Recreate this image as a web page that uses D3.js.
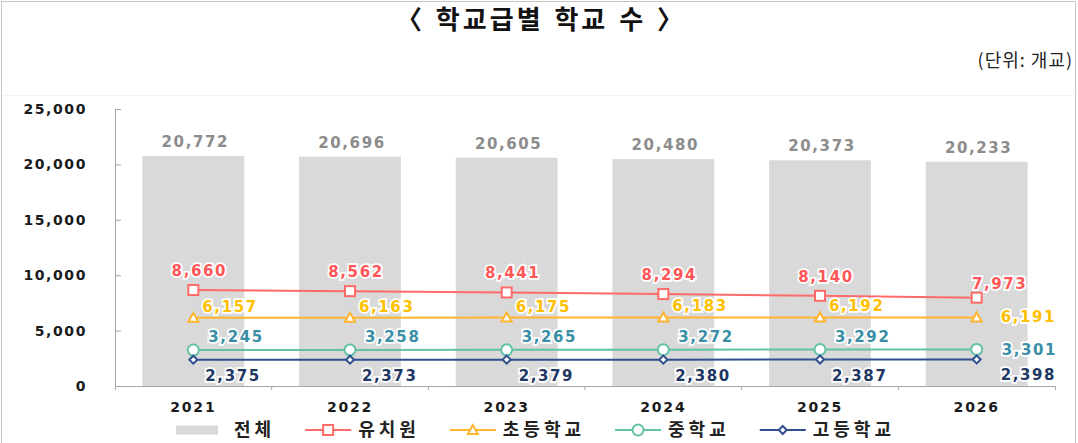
<!DOCTYPE html>
<html>
<head>
<meta charset="utf-8">
<script src="https://cdn.jsdelivr.net/npm/d3@7"></script>
<style>
  html, body { margin: 0; padding: 0; background: #fff; }
  svg { display: block; }
</style>
</head>
<body>
<div id="chart"></div>
<script>
// values
const years = ['2021', '2022', '2023', '2024', '2025', '2026'];
const totalSchools = [20772, 20696, 20605, 20480, 20373, 20233];
const kindergarten = [8660, 8562, 8441, 8294, 8140, 7973];
const elementary = [6157, 6163, 6175, 6183, 6192, 6191];
const middleSchool = [3245, 3258, 3265, 3272, 3292, 3301];
const highSchool = [2375, 2373, 2379, 2380, 2387, 2398];
const yTickValues = [0, 5000, 10000, 15000, 20000, 25000];

const titleText = '〈 학교급별 학교 수 〉';
const unitText = '(단위: 개교)';
const totalName = '전체';

(function () {
    const width = 1078;
    const height = 443;
    const numFont = '"DejaVu Sans", Verdana, sans-serif';
    const korFont = '"Noto Sans CJK KR", "Noto Sans", sans-serif';
    const fmt = d3.format(',');

    const series = [
        { name: '유치원', values: kindergarten, line: '#ff6b6b', text: '#ff5757', marker: 'square',
          pos: { dx: 6, dy: -19, anchor: 'middle' }, last: { dx: 23, dy: -14, anchor: 'middle' } },
        { name: '초등학교', values: elementary, line: '#ffb52e', text: '#ffc000', marker: 'triangle',
          pos: { dx: 9, dy: -11, anchor: 'start' }, last: { dx: 24, dy: 0, anchor: 'start' } },
        { name: '중학교', values: middleSchool, line: '#62c1a6', text: '#3a8fa6', marker: 'circle',
          pos: { dx: 15, dy: -13, anchor: 'start' }, last: { dx: 25, dy: 1, anchor: 'start' } },
        { name: '고등학교', values: highSchool, line: '#2f4f8e', text: '#1f3864', marker: 'diamond',
          pos: { dx: 12, dy: 16, anchor: 'start' }, last: { dx: 24, dy: 16, anchor: 'start' } }
    ];

    const svg = d3.select('#chart').append('svg')
        .attr('width', width)
        .attr('height', height)
        .attr('viewBox', `0 0 ${width} ${height}`);

    // frame
    svg.append('rect')
        .attr('x', 1.5).attr('y', 1.5)
        .attr('width', 1074).attr('height', 460)
        .attr('fill', 'none')
        .attr('stroke', '#8a8a8a')
        .attr('stroke-dasharray', '1,1');

    svg.append('line')
        .attr('x1', 3).attr('x2', 1074)
        .attr('y1', 95.5).attr('y2', 95.5)
        .attr('stroke', '#f3f3f3');

    // title + unit
    svg.append('text')
        .attr('x', 541).attr('y', 20)
        .attr('dy', '0.36em')
        .attr('text-anchor', 'middle')
        .attr('font-family', korFont)
        .attr('font-weight', 'bold')
        .attr('font-size', 26)
        .attr('letter-spacing', 3)
        .attr('word-spacing', 2)
        .attr('fill', '#111')
        .text(titleText);

    svg.append('text')
        .attr('x', 1073).attr('y', 61)
        .attr('dy', '0.36em')
        .attr('text-anchor', 'end')
        .attr('font-family', korFont)
        .attr('font-size', 18)
        .attr('letter-spacing', 1)
        .attr('fill', '#222')
        .text(unitText);

    const x = d3.scaleBand()
        .domain(years)
        .range([115, 1055])
        .paddingInner(0.35)
        .paddingOuter(0.175);

    const y = d3.scaleLinear()
        .domain([0, 25000])
        .range([386, 109]);

    const cx = d => x(d) + x.bandwidth() / 2;

    // bars
    const bars = svg.append('g').attr('class', 'bars');
    bars.selectAll('rect')
        .data(years)
        .enter().append('rect')
        .attr('x', d => x(d))
        .attr('width', x.bandwidth())
        .attr('y', (d, i) => y(totalSchools[i]))
        .attr('height', (d, i) => y(0) - y(totalSchools[i]))
        .attr('fill', '#d9d9d9');

    // y axis
    const yAxis = svg.append('g')
        .attr('transform', `translate(${x.range()[0]},0)`)
        .call(d3.axisLeft(y).tickValues(yTickValues).tickFormat(fmt)
            .tickSizeInner(-6).tickSizeOuter(0).tickPadding(28));
    yAxis.select('.domain').attr('stroke', '#a6a6a6');
    yAxis.selectAll('.tick line').attr('stroke', '#a6a6a6');
    yAxis.selectAll('.tick text')
        .attr('font-family', numFont)
        .attr('font-weight', 'bold')
        .attr('font-size', 14)
        .attr('letter-spacing', 1.6)
        .attr('fill', '#1a1a1a');

    // x axis
    const xAxis = svg.append('g')
        .attr('transform', `translate(0,${y(0)})`)
        .call(d3.axisBottom(x).tickSizeInner(0).tickSizeOuter(4).tickPadding(16));
    xAxis.select('.domain').attr('stroke', '#a6a6a6');
    xAxis.selectAll('.tick text')
        .attr('font-family', numFont)
        .attr('font-weight', 'bold')
        .attr('font-size', 14)
        .attr('letter-spacing', 1.8)
        .attr('fill', '#1a1a1a');
    const gap = (x.step() - x.bandwidth()) / 2;
    xAxis.selectAll('line.sep')
        .data(years.slice(1))
        .enter().append('line')
        .attr('class', 'sep')
        .attr('x1', d => x(d) - gap).attr('x2', d => x(d) - gap)
        .attr('y1', 0).attr('y2', 4)
        .attr('stroke', '#a6a6a6');

    // total labels
    bars.selectAll('text')
        .data(years)
        .enter().append('text')
        .attr('x', d => cx(d) + 2)
        .attr('y', (d, i) => y(totalSchools[i]) - 14)
        .attr('dominant-baseline', 'central')
        .attr('text-anchor', 'middle')
        .attr('font-family', numFont)
        .attr('font-weight', 'bold')
        .attr('font-size', 15)
        .attr('letter-spacing', 1.6)
        .attr('fill', '#8c8c8c')
        .attr('stroke', '#fff').attr('stroke-width', 3).attr('paint-order', 'stroke')
        .text((d, i) => fmt(totalSchools[i]));

    function drawMarker(g, type, color) {
        if (type === 'square') {
            g.append('rect').attr('x', -5).attr('y', -5).attr('width', 10).attr('height', 10)
                .attr('fill', '#fff').attr('stroke', color).attr('stroke-width', 2);
        } else if (type === 'triangle') {
            g.append('path').attr('d', 'M0,-5L5,4L-5,4Z')
                .attr('fill', '#fff').attr('stroke', color).attr('stroke-width', 2);
        } else if (type === 'circle') {
            g.append('circle').attr('r', 5.5)
                .attr('fill', '#fff').attr('stroke', color).attr('stroke-width', 2);
        } else {
            g.append('path').attr('d', 'M0,-4L4,0L0,4L-4,0Z')
                .attr('fill', '#fff').attr('stroke', color).attr('stroke-width', 2);
        }
    }

    const lineGen = d3.line()
        .x(d => cx(d.year))
        .y(d => y(d.value));

    series.forEach(s => {
        const pts = years.map((yr, i) => ({ year: yr, value: s.values[i], last: i === years.length - 1 }));
        const g = svg.append('g').attr('class', 'series');

        g.append('path')
            .datum(pts)
            .attr('d', lineGen)
            .attr('fill', 'none')
            .attr('stroke', s.line)
            .attr('stroke-width', 2);

        g.selectAll('g.mk')
            .data(pts)
            .enter().append('g')
            .attr('class', 'mk')
            .attr('transform', d => `translate(${cx(d.year)},${y(d.value)})`)
            .each(function () { drawMarker(d3.select(this), s.marker, s.line); });
    });

    // labels on top of everything
    series.forEach(s => {
        const pts = years.map((yr, i) => ({ year: yr, value: s.values[i], last: i === years.length - 1 }));
        svg.append('g').selectAll('text')
            .data(pts)
            .enter().append('text')
            .attr('x', d => cx(d.year) + (d.last ? s.last.dx : s.pos.dx))
            .attr('y', d => y(d.value) + (d.last ? s.last.dy : s.pos.dy))
            .attr('text-anchor', d => d.last ? s.last.anchor : s.pos.anchor)
            .attr('dominant-baseline', 'central')
            .attr('font-family', numFont)
            .attr('font-weight', 'bold')
            .attr('font-size', 15)
            .attr('letter-spacing', 1.6)
            .attr('fill', s.text)
            .attr('stroke', '#fff').attr('stroke-width', 3.5).attr('paint-order', 'stroke')
            .text(d => fmt(d.value));
    });

    // legend
    const legend = svg.append('g').attr('transform', 'translate(0,430)');
    const items = [{ name: totalName, bar: true }].concat(series);
    let lx = 176;
    items.forEach(it => {
        const g = legend.append('g').attr('transform', `translate(${lx},0)`);
        let tx;
        if (it.bar) {
            g.append('rect').attr('x', 0).attr('y', -4.5).attr('width', 42).attr('height', 9)
                .attr('fill', '#d9d9d9');
            tx = 58;
        } else {
            g.append('line').attr('x1', 0).attr('x2', 46)
                .attr('stroke', it.line).attr('stroke-width', 2);
            drawMarker(g.append('g').attr('transform', 'translate(23,0)'), it.marker, it.line);
            tx = 53;
        }
        const t = g.append('text')
            .attr('x', tx)
            .attr('dy', '0.36em')
            .attr('font-family', korFont)
            .attr('font-weight', 'bold')
            .attr('font-size', 18)
            .attr('letter-spacing', 4)
            .attr('fill', '#222')
            .text(it.name);
        lx += tx + t.node().getComputedTextLength() + 30;
    });
})();
</script>
</body>
</html>
